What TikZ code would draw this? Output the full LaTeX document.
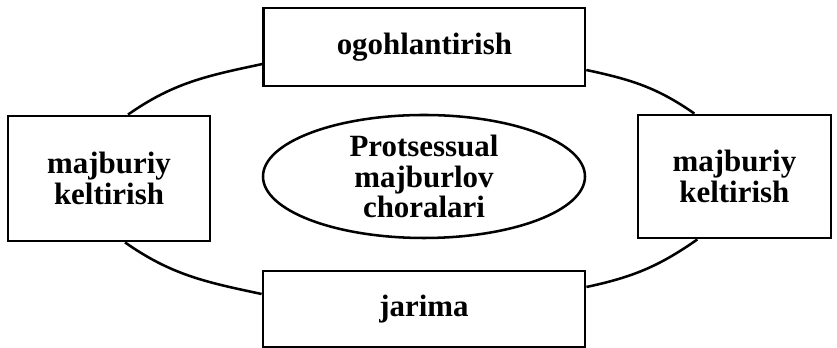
\documentclass[tikz,border=0pt]{standalone}
\usepackage{fontspec}
\setmainfont{Liberation Serif}
\usepackage{tikz}
\usetikzlibrary{shapes.geometric}
\tikzset{
  ring/.style={line width=1.8pt,black},
  box/.style={draw,line width=2pt,fill=white,align=center,inner sep=0pt,font=\bfseries\fontsize{22}{22}\selectfont},
  core/.style={ellipse,draw,line width=1.8pt,align=center,inner sep=-2pt,font=\bfseries\fontsize{22}{22}\selectfont}
}
\begin{document}
\begin{tikzpicture}
\useasboundingbox (0,0) rectangle (20.925,8.7);
\node[box,minimum width=8.025cm,minimum height=1.95cm] (top) at (10.61,7.525) {ogohlantirish};
\node[box,minimum width=5.05cm,minimum height=3.125cm] (lft) at (2.725,4.2375) {majburiy\\keltirish};
\node[box,minimum width=4.825cm,minimum height=3.075cm] (rgt) at (18.36,4.2875) {majburiy\\keltirish};
\node[box,minimum width=8.05cm,minimum height=1.9cm] (bot) at (10.6,0.975) {jarima};
\node[core,minimum width=8.05cm,minimum height=3.075cm] (core) at (10.6,4.2875) {Protsessual\\majburlov\\choralari};
% outer ring between the boxes
\draw[ring] ([yshift=-4.25mm]top.west) to[out=192,in=35] ([xshift=4.75mm]lft.north);
\draw[ring] ([yshift=-5.75mm]top.east) to[out=-12,in=145] ([xshift=-10mm]rgt.north);
\draw[ring] ([xshift=4mm]lft.south) to[out=-35,in=168] ([yshift=3.75mm]bot.west);
\draw[ring] ([yshift=5.5mm]bot.east) to[out=12,in=-145] ([xshift=-9.25mm]rgt.south);
\end{tikzpicture}
\end{document}
